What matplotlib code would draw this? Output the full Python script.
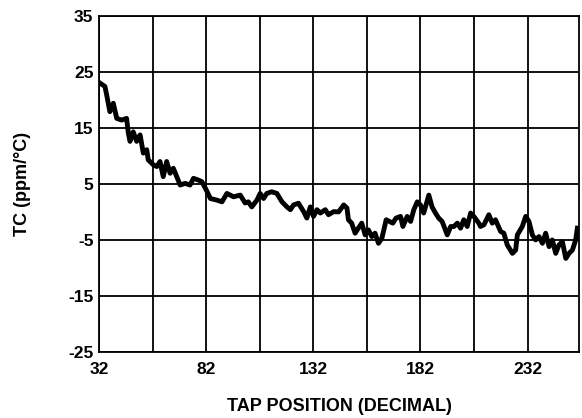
import numpy as np
import matplotlib
matplotlib.use("Agg")
import matplotlib.pyplot as plt

plt.rcParams['font.family'] = ['Liberation Sans', 'DejaVu Sans']
plt.rcParams['font.weight'] = 'bold'
plt.rcParams['axes.unicode_minus'] = False

# tap position vs temperature coefficient
tap = [32.5, 34.8, 35.6, 37.1, 38.7, 40.3, 42.6, 44.9, 45.7, 46.5, 48.0, 49.6,
       51.2, 52.7, 54.3, 55.0, 57.4, 59.0, 60.5, 62.0, 63.6, 65.2, 66.7, 68.3,
       69.9, 72.2, 74.5, 76.1, 78.3, 80.0, 81.7, 84.0, 87.1, 89.4, 91.7, 93.2,
       94.8, 97.9, 100.2, 101.7, 103.3, 105.7, 107.2, 108.8, 110.3, 112.6, 115.0,
       117.4, 119.7, 121.3, 122.8, 125.1, 127.5, 129.0, 130.6, 132.1, 133.7,
       135.3, 137.6, 139.1, 141.5, 143.8, 146.2, 147.7, 148.4, 149.9, 151.5,
       153.0, 154.6, 156.2, 157.7, 159.3, 160.8, 162.4, 164.0, 166.0, 167.5,
       169.1, 170.6, 172.7, 173.8, 175.8, 177.4, 178.9, 180.5, 182.0, 183.5,
       185.9, 187.4, 189.0, 190.5, 192.1, 194.5, 196.1, 197.6, 199.2, 200.7,
       202.2, 203.8, 205.4, 206.9, 209.2, 210.0, 211.6, 213.9, 215.5, 217.0,
       219.4, 220.9, 222.5, 224.9, 226.4, 227.2, 229.5, 231.1, 232.6, 234.2,
       235.7, 237.3, 238.9, 240.4, 242.0, 243.5, 245.1, 246.6, 248.2, 249.8,
       251.3, 252.9, 254.4, 255.2]
tc = [23.0, 22.4, 20.9, 17.9, 19.4, 16.7, 16.4, 16.7, 14.1, 12.6, 14.3, 12.6,
      13.75, 10.5, 11.1, 9.3, 8.4, 8.1, 9.0, 6.3, 9.0, 6.9, 7.8, 6.3,
      4.8, 5.1, 4.8, 6.0, 5.7, 5.4, 4.2, 2.4, 2.1, 1.8, 3.3, 3.0,
      2.7, 3.0, 1.6, 1.8, 0.9, 2.1, 3.3, 2.4, 3.3, 3.6, 3.3,
      1.8, 0.9, 0.4, 1.25, 1.55, 0.05, -1.1, 0.9, -0.8, 0.4,
      -0.2, 0.4, -0.5, 0.05, 0.0, 1.25, 0.7, -1.4, -2.0, -3.8,
      -2.9, -2.0, -4.1, -3.2, -4.4, -3.8, -5.6, -4.7, -1.4, -1.7,
      -2.0, -1.1, -0.8, -2.6, -0.8, -1.7, 0.4, 1.8, 1.25, -0.2,
      3.0, 0.9, -0.2, -1.1, -1.7, -4.1, -2.6, -2.6, -2.0, -2.9,
      -1.4, -2.6, -0.2, -0.8, -2.0, -2.6, -2.3, -0.5, -2.0, -1.4,
      -3.5, -3.8, -5.9, -7.4, -6.8, -4.1, -2.6, -0.8, -1.7, -4.1,
      -5.0, -4.4, -5.6, -3.8, -6.2, -5.0, -7.4, -5.9, -5.3, -8.3,
      -7.4, -6.8, -5.0, -2.9]

x_ticks = [32, 82, 132, 182, 232]
x_grid = [57, 107, 157, 207]
y_ticks = [-25, -15, -5, 5, 15, 25, 35]

fig = plt.figure(figsize=(5.82, 4.18), dpi=100)
ax = fig.add_axes([0.170, 0.158, 0.825, 0.804])

ax.plot(tap, tc, color='black', linewidth=3.5, solid_joinstyle='round')

ax.set_xlim(32, 256)
ax.set_ylim(-25, 35)
ax.set_xticks(x_ticks)
ax.set_xticks(x_grid, minor=True)
ax.set_yticks(y_ticks)
ax.grid(True, which='both', color='black', linewidth=1.3)
ax.set_axisbelow(True)
ax.tick_params(which='both', length=0)
ax.tick_params(axis='x', pad=7, labelsize=12.5)
ax.tick_params(axis='y', pad=4, labelsize=12.5)
for s in ax.spines.values():
    s.set_linewidth(1.3)

ax.set_xlabel('TAP POSITION (DECIMAL)', fontsize=13, fontweight='bold', labelpad=15)
ax.set_ylabel('TC (ppm/°C)', fontsize=13, fontweight='bold', labelpad=27)

fig.savefig('out.png', dpi=100)
